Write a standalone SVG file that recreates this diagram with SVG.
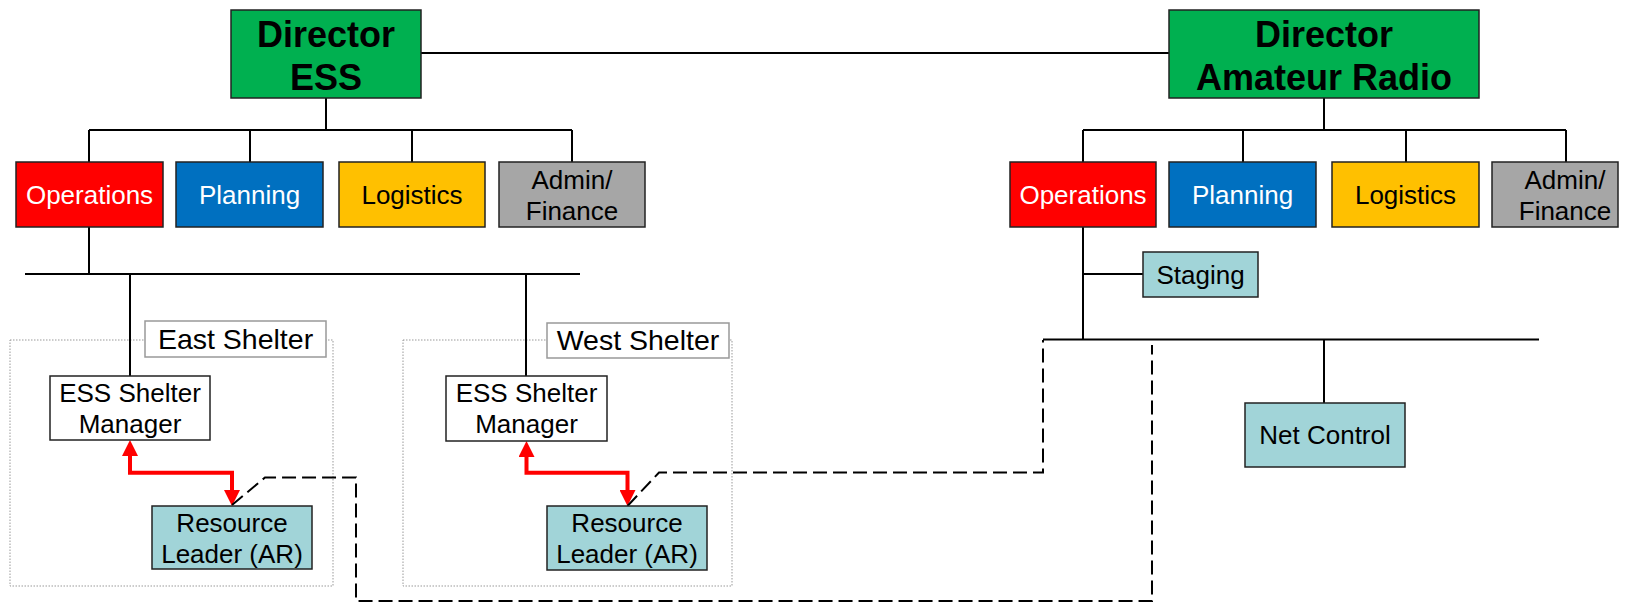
<svg xmlns="http://www.w3.org/2000/svg" width="1628" height="603" viewBox="0 0 1628 603">
<style>
text{font-family:"Liberation Sans",Arial,sans-serif;text-anchor:middle;fill:#000}
.dir{font-size:36px;font-weight:bold}
.t26{font-size:26px}
.t28{font-size:28.5px}
.w{fill:#fff}
.box{stroke:#222;stroke-width:1.5}
.green{fill:#00B050}
.red{fill:#FF0000}
.blue{fill:#0070C0}
.yellow{fill:#FFC000}
.gray{fill:#A6A6A6}
.teal{fill:#A1D4D8}
.white{fill:#fff}
.grp{fill:none;stroke:#999;stroke-width:1;stroke-dasharray:1.5 1.5}
.lbl{fill:#fff;stroke:#999;stroke-width:1.5}
.ln{fill:none;stroke:#000;stroke-width:2}
.dash{fill:none;stroke:#000;stroke-width:2;stroke-dasharray:14 6}
.redln{fill:none;stroke:#FF0000;stroke-width:4}
</style>
<defs>
<marker id="ah" viewBox="0 0 16 16" refX="2" refY="8" markerWidth="16" markerHeight="16" markerUnits="userSpaceOnUse" orient="auto-start-reverse">
<path d="M0,0 L16,8 L0,16 z" fill="#FF0000"/>
</marker>
</defs>

<g id="group-east">
<rect class="grp" x="10" y="340" width="323" height="246"/>
<rect class="lbl" x="145" y="321" width="181" height="36"/>
<text class="t28" x="235.5" y="349">East Shelter</text>
</g>
<g id="group-west">
<rect class="grp" x="403" y="340" width="329" height="246"/>
<rect class="lbl" x="547" y="323" width="182" height="35"/>
<text class="t28" x="638" y="350">West Shelter</text>
</g>

<g id="connectors">
<path class="ln" d="M421,53 H1169"/>
<path class="ln" d="M326,98 V130 M89,130 H572 M89,130 V162 M250,130 V162 M412,130 V162 M572,130 V162"/>
<path class="ln" d="M1324,98 V130 M1083,130 H1566 M1083,130 V162 M1243,130 V162 M1406,130 V162 M1566,130 V162"/>
<path class="ln" d="M89,227 V274 M25,274 H580 M130,274 V376 M526,274 V376"/>
<path class="ln" d="M1083,227 V339.5 M1083,274 H1143 M1043,339.5 H1539 M1324,339.5 V403"/>
<path class="redln" d="M130,454 V472.7 H232 V492" marker-start="url(#ah)" marker-end="url(#ah)"/>
<path class="redln" d="M526.5,455 V472.7 H627.5 V492" marker-start="url(#ah)" marker-end="url(#ah)"/>
<path class="dash" d="M232,505 L265,477.5 H356 V601 H1152 V345"/>
<path class="dash" d="M627.5,506 L659,472.5 H1043 V340"/>
</g>

<g id="director-ess">
<rect class="box green" x="231" y="10" width="190" height="88"/>
<text class="dir" x="326" y="47">Director</text>
<text class="dir" x="326" y="90">ESS</text>
</g>
<g id="director-ar">
<rect class="box green" x="1169" y="10" width="310" height="88"/>
<text class="dir" x="1324" y="47">Director</text>
<text class="dir" x="1324" y="90">Amateur Radio</text>
</g>

<g id="ess-operations">
<rect class="box red" x="16" y="162" width="147" height="65"/>
<text class="t26 w" x="89.5" y="204">Operations</text>
</g>
<g id="ess-planning">
<rect class="box blue" x="176" y="162" width="147" height="65"/>
<text class="t26 w" x="249.5" y="204">Planning</text>
</g>
<g id="ess-logistics">
<rect class="box yellow" x="339" y="162" width="146" height="65"/>
<text class="t26" x="412" y="204">Logistics</text>
</g>
<g id="ess-admin">
<rect class="box gray" x="499" y="162" width="146" height="65"/>
<text class="t26" x="572" y="189">Admin/</text>
<text class="t26" x="572" y="220">Finance</text>
</g>

<g id="ar-operations">
<rect class="box red" x="1010" y="162" width="146" height="65"/>
<text class="t26 w" x="1083" y="204">Operations</text>
</g>
<g id="ar-planning">
<rect class="box blue" x="1169" y="162" width="147" height="65"/>
<text class="t26 w" x="1242.5" y="204">Planning</text>
</g>
<g id="ar-logistics">
<rect class="box yellow" x="1332" y="162" width="147" height="65"/>
<text class="t26" x="1405.5" y="204">Logistics</text>
</g>
<g id="ar-admin">
<rect class="box gray" x="1492" y="162" width="126" height="65"/>
<text class="t26" x="1565" y="189">Admin/</text>
<text class="t26" x="1565" y="220">Finance</text>
</g>

<g id="staging">
<rect class="box teal" x="1143" y="252" width="115" height="45"/>
<text class="t26" x="1200.5" y="284">Staging</text>
</g>
<g id="net-control">
<rect class="box teal" x="1245" y="403" width="160" height="64"/>
<text class="t26" x="1325" y="444">Net Control</text>
</g>

<g id="east-manager">
<rect class="box white" x="50" y="376" width="160" height="64"/>
<text class="t26" x="130" y="401.5">ESS Shelter</text>
<text class="t26" x="130" y="433">Manager</text>
</g>
<g id="east-leader">
<rect class="box teal" x="152" y="506" width="160" height="63"/>
<text class="t26" x="232" y="531.5">Resource</text>
<text class="t26" x="232" y="563">Leader (AR)</text>
</g>
<g id="west-manager">
<rect class="box white" x="446" y="376" width="161" height="65"/>
<text class="t26" x="526.5" y="401.5">ESS Shelter</text>
<text class="t26" x="526.5" y="433">Manager</text>
</g>
<g id="west-leader">
<rect class="box teal" x="547" y="506" width="160" height="64"/>
<text class="t26" x="627" y="531.5">Resource</text>
<text class="t26" x="627" y="563">Leader (AR)</text>
</g>
</svg>
